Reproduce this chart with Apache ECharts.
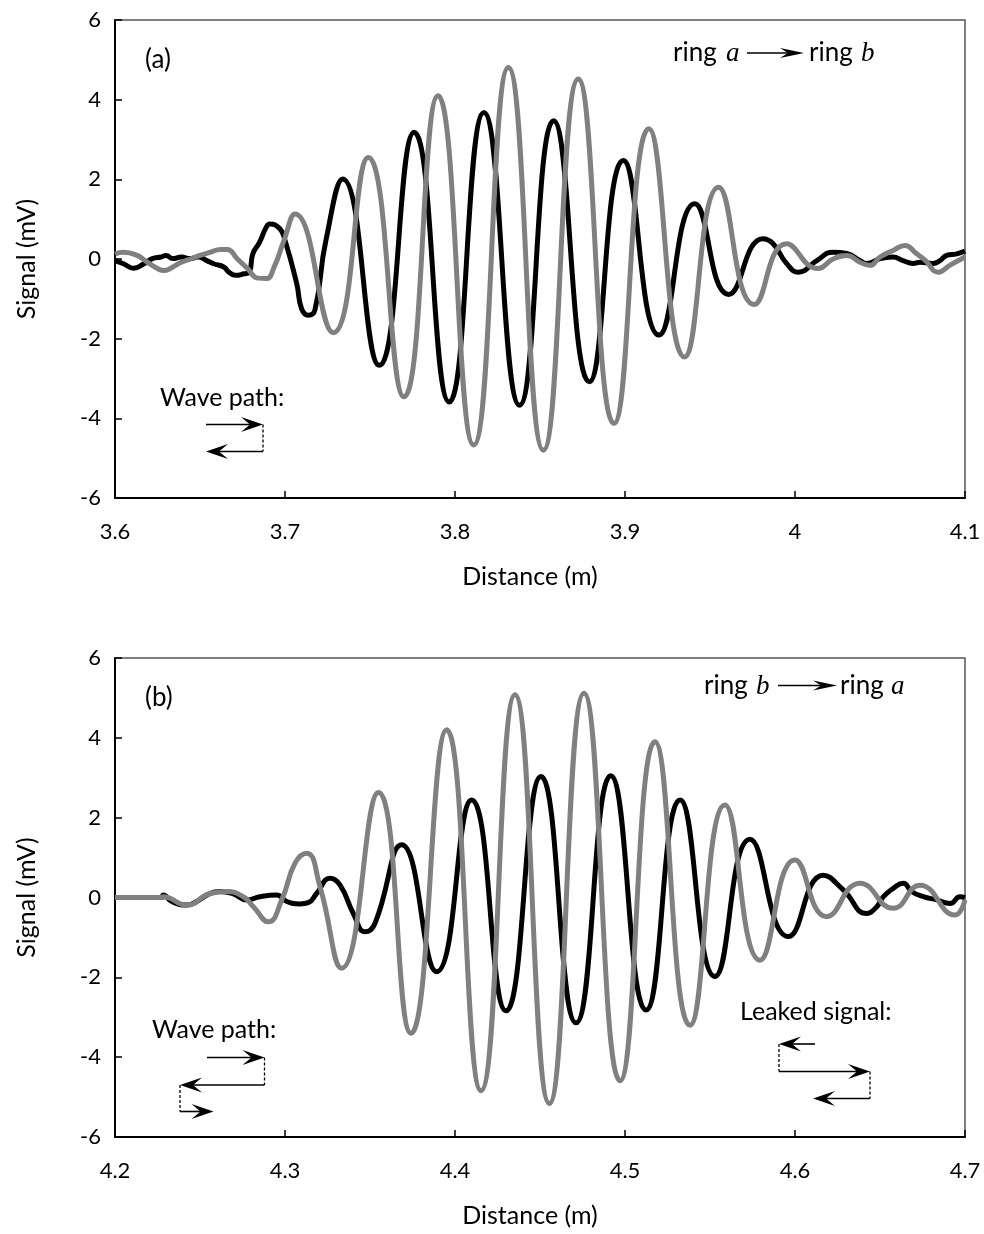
<!DOCTYPE html>
<html><head><meta charset="utf-8">
<script src="https://cdn.jsdelivr.net/npm/echarts@6/dist/echarts.min.js"></script>
<style>html,body{margin:0;padding:0;background:#fff}#c{width:984px;height:1234px}</style>
</head><body><div id="c"></div>
<script>
// ---- Data (distance in m, signal in mV) ----
const A_BLACK_X = [3.600,3.605,3.611,3.617,3.622,3.627,3.630,3.634,3.639,3.644,3.649,3.654,3.658,3.664,3.667,3.671,3.676,3.679,3.681,3.685,3.689,3.691,3.697,3.700,3.7069,3.7098,3.7137,3.7176,3.724,3.734,3.7555,3.776,3.7966,3.817,3.838,3.858,3.879,3.899,3.920,3.941,3.961,3.981,3.987,3.995,4.002,4.0128,4.0224,4.0304,4.0382,4.0422,4.050,4.0576,4.0635,4.0694,4.0735,4.0812,4.0853,4.0892,4.0951,4.100];
const A_BLACK_Y = [-0.04,-0.12,-0.23,-0.12,0.01,0.05,0.09,0.01,0.05,0.01,0.05,-0.04,-0.12,-0.20,-0.33,-0.41,-0.37,-0.33,0.12,0.42,0.80,0.88,0.76,0.47,-0.62,-1.25,-1.41,-1.28,0.45,2.01,-2.67,3.18,-3.59,3.68,-3.67,3.47,-3.08,2.47,-1.91,1.39,-0.89,0.51,0.39,-0.11,-0.33,-0.04,0.17,0.14,-0.04,-0.11,0.01,0.05,-0.04,-0.11,-0.08,-0.11,-0.04,0.09,0.13,0.20];
const A_GRAY_X = [3.600,3.605,3.613,3.619,3.625,3.629,3.634,3.639,3.645,3.650,3.656,3.662,3.666,3.672,3.678,3.684,3.689,3.694,3.699,3.7059,3.7284,3.749,3.770,3.790,3.811,3.8314,3.852,3.8725,3.8935,3.914,3.935,3.955,3.976,3.995,4.0135,4.0224,4.0304,4.0382,4.0441,4.050,4.058,4.0647,4.0716,4.0765,4.0843,4.091,4.100];
const A_GRAY_Y = [0.13,0.17,0.09,-0.08,-0.24,-0.29,-0.20,-0.08,0.01,0.09,0.17,0.24,0.24,0.00,-0.24,-0.48,-0.49,-0.16,0.42,1.13,-1.85,2.55,-3.46,4.10,-4.67,4.81,-4.80,4.52,-4.13,3.27,-2.46,1.80,-1.14,0.38,-0.24,0.00,0.09,-0.08,-0.16,0.05,0.22,0.34,0.13,-0.03,-0.33,-0.16,0.05];
const B_BLACK_X = [4.200,4.2275,4.2284,4.2334,4.2422,4.2481,4.2559,4.2618,4.2696,4.2775,4.2853,4.2951,4.301,4.3088,4.3137,4.3186,4.3265,4.3324,4.3402,4.3471,4.3529,4.3686,4.3892,4.4098,4.430,4.4506,4.4712,4.4916,4.5124,4.5324,4.5529,4.5735,4.5961,4.6166,4.6284,4.6422,4.6481,4.652,4.6578,4.6637,4.6686,4.6755,4.6834,4.6912,4.6971,4.700];
const B_BLACK_Y = [0,0,0.06,-0.10,-0.19,-0.10,0.10,0.15,0.09,-0.06,0.02,0.06,-0.10,-0.16,-0.13,0.10,0.48,0.31,-0.40,-0.86,-0.65,1.32,-1.86,2.44,-2.84,3.03,-3.14,3.05,-2.82,2.44,-1.98,1.46,-0.98,0.56,0.19,-0.40,-0.23,0.02,0.23,0.36,0.15,0.02,-0.06,-0.15,0.02,-0.01];
const B_GRAY_X = [4.200,4.2275,4.2284,4.2422,4.2559,4.2657,4.2755,4.2814,4.2902,4.2981,4.3059,4.3128,4.3206,4.3334,4.355,4.3741,4.3951,4.4153,4.4353,4.4555,4.4759,4.4971,4.5176,4.5382,4.5588,4.5794,4.600,4.6186,4.6382,4.6578,4.6735,4.6941,4.700];
const B_GRAY_Y = [0,0,0.02,-0.19,0.10,0.15,0.02,-0.23,-0.61,-0.06,0.86,1.11,0.27,-1.77,2.63,-3.40,4.20,-4.84,5.08,-5.16,5.12,-4.59,3.90,-3.20,2.32,-1.57,0.94,-0.48,0.36,-0.27,0.31,-0.44,-0.06];

const X_RANGE_A = [3.6, 4.1];
const X_RANGE_B = [4.2, 4.7];
const Y_RANGE = [-6, 6];

const zip = (xs, ys) => xs.map((x, i) => [x, ys[i]]);

const FONT = 'Lato, Carlito, "Open Sans", sans-serif';
const TXT = '#000';

function xAxisCfg(gi, range) {
  return {
    gridIndex: gi, type: 'value', min: range[0], max: range[1], interval: 0.1,
    axisLine: { show: true, onZero: false, lineStyle: { color: '#000', width: 2 } },
    axisTick: { show: true, inside: true, length: 7, lineStyle: { color: '#000', width: 1.5 } },
    splitLine: { show: false },
    axisLabel: { fontFamily: FONT, fontSize: 22, color: TXT, margin: 23,
      formatter: v => String(Math.round(v * 10) / 10) },
    name: 'Distance (m)', nameLocation: 'middle', nameGap: 66,
    nameTextStyle: { fontFamily: FONT, fontSize: 25, color: TXT, padding: [0, 20, 0, 0] }
  };
}
function yAxisCfg(gi) {
  return {
    gridIndex: gi, type: 'value', min: Y_RANGE[0], max: Y_RANGE[1], interval: 2,
    axisLine: { show: true, onZero: false, lineStyle: { color: '#000', width: 2 } },
    axisTick: { show: true, inside: true, length: 7, lineStyle: { color: '#000', width: 1.5 } },
    splitLine: { show: false },
    axisLabel: { fontFamily: FONT, fontSize: 22, color: TXT, margin: 14 },
    name: 'Signal (mV)', nameLocation: 'middle', nameGap: 76,
    nameTextStyle: { fontFamily: FONT, fontSize: 25, color: TXT }
  };
}
function ser(gi, data, color) {
  return {
    type: 'line', xAxisIndex: gi, yAxisIndex: gi, data, showSymbol: false,
    smooth: 0.5, lineStyle: { color, width: 5 }, silent: true, animation: false
  };
}

// ---- annotation helpers ----
function txt(x, y, s, font, align) {
  return { type: 'text', x, y, z: 100,
    style: { text: s, font, fill: '#000', textAlign: align || 'left', textVerticalAlign: 'middle' } };
}
function seg(pts, dashed) {
  return { type: 'polyline', z: 100, shape: { points: pts },
    style: { stroke: '#000', lineWidth: dashed ? 1.3 : 1.6, lineDash: dashed ? [3, 2] : null, fill: null } };
}
function head(tx, ty, dir, L, W, N) {
  return { type: 'polygon', z: 100,
    shape: { points: [[tx, ty], [tx - dir * L, ty - W], [tx - dir * N, ty], [tx - dir * L, ty + W]] },
    style: { fill: '#000', stroke: null } };
}
function arrow(x1, y, x2) {
  const dir = x2 > x1 ? 1 : -1;
  return [seg([[x1, y], [x2 - dir * 4, y]]), head(x2, y, dir, 22, 7.5, 13)];
}
const F_TXT = '25px ' + FONT;
const F_IT = 'italic 27px "Liberation Serif", "DejaVu Serif", serif';

function ringLabel(y, first, second, xs) {
  return [
    txt(xs[0], y, 'ring', '26px ' + FONT),
    txt(xs[1], y + 1, first, F_IT),
    seg([[xs[2], y], [xs[3] - 10, y]]),
    head(xs[3], y, 1, 24, 5, 16),
    txt(xs[4], y, 'ring', '26px ' + FONT),
    txt(xs[5], y + 1, second, F_IT)
  ];
}

const graphics = [].concat(
  [txt(145, 60, '(a)', '26px ' + FONT)],
  ringLabel(53, 'a', 'b', [673, 726, 747, 804, 809, 861]),
  [txt(160, 398, 'Wave path:', F_TXT)],
  arrow(206, 424.5, 263),
  [seg([[263, 424.5], [263, 451.5]], true)],
  arrow(263, 451.5, 206),
  [txt(145, 698, '(b)', '26px ' + FONT)],
  ringLabel(685.5, 'b', 'a', [704, 756, 778, 837, 840, 891]),
  [txt(152, 1030, 'Wave path:', F_TXT)],
  arrow(207, 1057.5, 264.5),
  [seg([[264.5, 1057.5], [264.5, 1085]], true)],
  arrow(264.5, 1085, 180),
  [seg([[180, 1085], [180, 1111.5]], true)],
  arrow(180, 1111.5, 213.5),
  [txt(740, 1012, 'Leaked signal:', F_TXT)],
  arrow(815, 1044, 779),
  [seg([[779, 1044], [779, 1071.5]], true)],
  arrow(779, 1071.5, 870),
  [seg([[870, 1071.5], [870, 1098.5]], true)],
  arrow(870, 1098.5, 813)
);

const chart = echarts.init(document.getElementById('c'), null, { renderer: 'canvas' });
chart.setOption({
  animation: false,
  backgroundColor: '#fff',
  grid: [
    { left: 115, top: 20, width: 850, height: 478, show: true, borderColor: '#555', borderWidth: 1.5, backgroundColor: 'transparent' },
    { left: 115, top: 658, width: 850, height: 479, show: true, borderColor: '#555', borderWidth: 1.5, backgroundColor: 'transparent' }
  ],
  xAxis: [xAxisCfg(0, X_RANGE_A), xAxisCfg(1, X_RANGE_B)],
  yAxis: [yAxisCfg(0), yAxisCfg(1)],
  series: [
    ser(0, zip(A_BLACK_X, A_BLACK_Y), '#000000'),
    ser(0, zip(A_GRAY_X, A_GRAY_Y), '#808080'),
    ser(1, zip(B_BLACK_X, B_BLACK_Y), '#000000'),
    ser(1, zip(B_GRAY_X, B_GRAY_Y), '#808080')
  ],
  graphic: graphics
});
</script></body></html>
